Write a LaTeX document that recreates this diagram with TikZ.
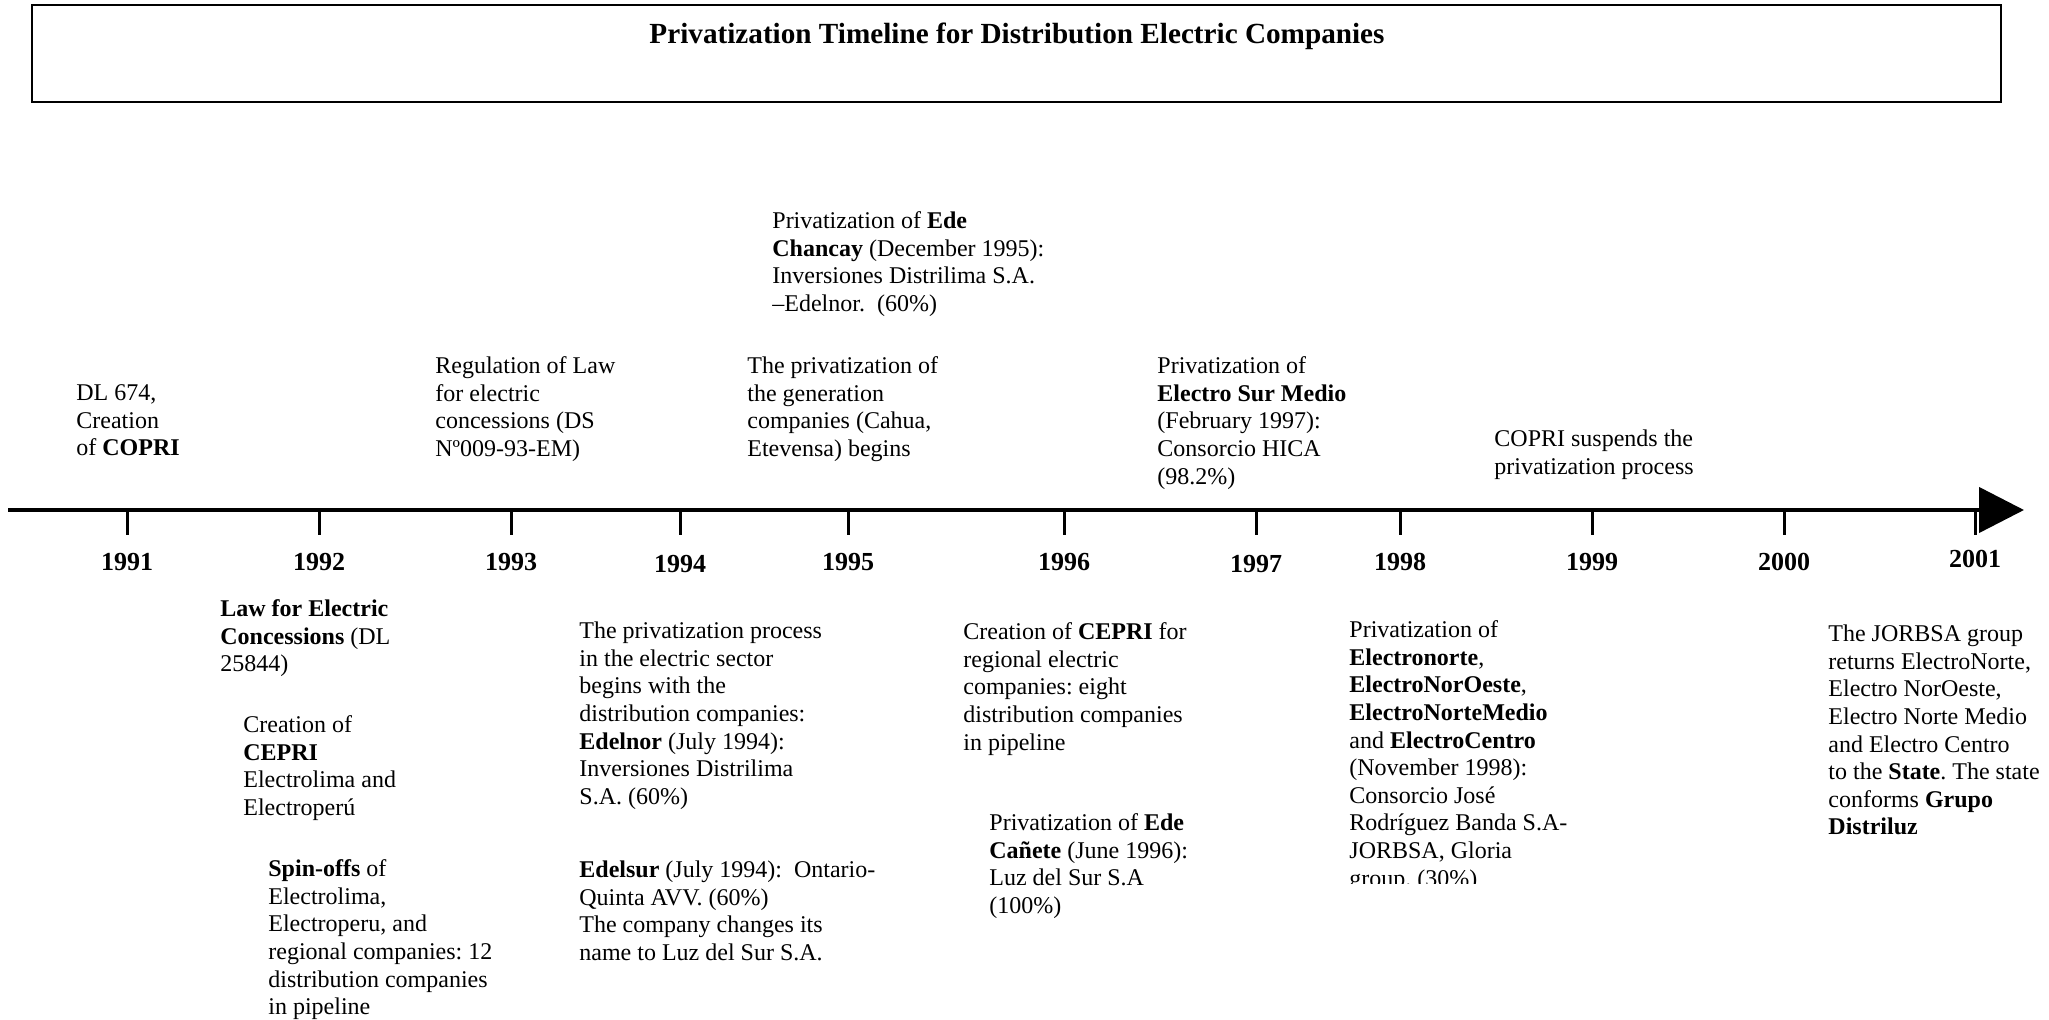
\documentclass[tikz,border=0pt]{standalone}
\usepackage{fontspec}
\setmainfont{Liberation Serif}
\usetikzlibrary{arrows.meta}
\frenchspacing

\begin{document}
\begin{tikzpicture}[x=0.5pt,y=0.5pt]
      \tikzset { eventtext/.style = { anchor=north west,inner sep=0pt,align=left,font=\fontsize{12}{13.8}\selectfont } }
      \tikzset { yearlabel/.style = { anchor=base,inner sep=0pt,font=\fontsize{13}{15}\selectfont\bfseries } }
      \tikzset { titletext/.style = { anchor=base,inner sep=0pt,font=\fontsize{14.6}{16.8}\selectfont\bfseries } }
      \tikzset { axisline/.style = { line width=2.2pt,-{Triangle[length=22.5pt,width=22.5pt]} } }
      \tikzset { tickmark/.style = { line width=1.5pt } }

      \useasboundingbox (0,0) rectangle (2049,-1020);

      % title box
      \draw[line width=1.4pt] (32,-5) rectangle (2001,-102);
      \node[titletext] (title) at (1017,-44) {Privatization Timeline for Distribution Electric Companies};

      % time axis
      \coordinate (axisL) at (8,-510);
      \coordinate (axisR) at (2024,-510);
      \draw[axisline] (axisL) -- (axisR);

      \foreach \yr/\xx/\yb in {1991/127/571, 1992/319/571, 1993/511/571, 1994/680/573,
                               1995/848/571, 1996/1064/571, 1997/1256/573, 1998/1400/571,
                               1999/1592/571, 2000/1784/571, 2001/1975/568} {
        \coordinate (t\yr) at (\xx,-510);
        \draw[tickmark] (t\yr) -- ++(0,-25);
        \node[yearlabel] (y\yr) at (\xx,-\yb) {\yr};
      }

      % events above the axis
      \node[eventtext] (dl674) at (76,-381) {\strut DL 674,\\Creation\\of \textbf{COPRI}};
      \node[eventtext] (regLaw) at (435,-354) {\strut Regulation of Law\\for electric\\concessions (DS\\Nº009-93-EM)};
      \node[eventtext] (chancay) at (772,-209) {\strut Privatization of \textbf{Ede}\\\textbf{Chancay} (December 1995):\\Inversiones Distrilima S.A.\\–Edelnor.\ \ (60\%)};
      \node[eventtext] (genPriv) at (747,-354) {\strut The privatization of\\the generation\\companies (Cahua,\\Etevensa) begins};
      \node[eventtext] (surMedio) at (1157,-354) {\strut Privatization of\\\textbf{Electro Sur Medio}\\(February 1997):\\Consorcio HICA\\(98.2\%)};
      \node[eventtext] (suspend) at (1494,-427) {\strut COPRI suspends the\\privatization process};

      % events below the axis
      \node[eventtext] (lawConc) at (220,-597) {\strut \textbf{Law for Electric}\\\textbf{Concessions} (DL\\25844)};
      \node[eventtext] (cepri) at (243,-713) {\strut Creation of\\\textbf{CEPRI}\\Electrolima and\\Electroperú};
      \node[eventtext] (spinoffs) at (268,-857) {\strut \textbf{Spin-offs} of\\Electrolima,\\Electroperu, and\\regional companies: 12\\distribution companies\\in pipeline};
      \node[eventtext] (edelnor) at (579,-619) {\strut The privatization process\\in the electric sector\\begins with the\\distribution companies:\\\textbf{Edelnor} (July 1994):\\Inversiones Distrilima\\S.A. (60\%)};
      \node[eventtext] (edelsur) at (579,-858) {\strut \textbf{Edelsur} (July 1994):\ \ Ontario-\\Quinta AVV. (60\%)\\The company changes its\\name to Luz del Sur S.A.};
      \node[eventtext] (cepriReg) at (963,-620) {\strut Creation of \textbf{CEPRI} for\\regional electric\\companies: eight\\distribution companies\\in pipeline};
      \node[eventtext] (canete) at (989,-811) {\strut Privatization of \textbf{Ede}\\\textbf{Cañete} (June 1996):\\Luz del Sur S.A\\(100\%)};
      \begin{scope}
        \clip (1330,-600) rectangle (1620,-883);
        \node[eventtext] (norte) at (1349,-618) {\strut Privatization of\\\textbf{Electronorte},\\\textbf{ElectroNorOeste},\\\textbf{ElectroNorteMedio}\\and \textbf{ElectroCentro}\\(November 1998):\\Consorcio José\\Rodríguez Banda S.A-\\JORBSA, Gloria\\group. (30\%)};
      \end{scope}
      \node[eventtext] (jorbsa) at (1828,-622) {\strut The JORBSA group\\returns ElectroNorte,\\Electro NorOeste,\\Electro Norte Medio\\and Electro Centro\\to the \textbf{State}. The state\\conforms \textbf{Grupo}\\\textbf{Distriluz}};

    \end{tikzpicture}
\end{document}
